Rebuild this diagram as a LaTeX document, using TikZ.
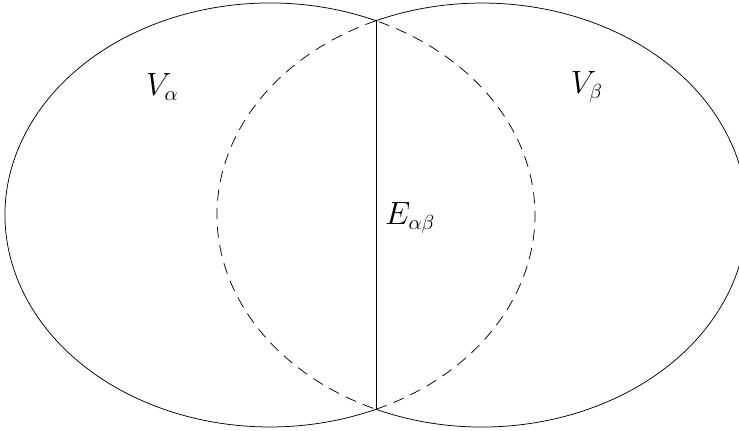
\documentclass[tikz,border=0pt]{standalone}
\begin{document}
\begin{tikzpicture}[
  lbl/.style={font=\fontsize{16pt}{19pt}\selectfont},
  dsh/.style={dash pattern=on 6pt off 4pt},
  ell/.style={x radius=5, y radius=4}
]
\useasboundingbox (-5.094,-4.057) rectangle (8.85,4.057);
\coordinate (top) at (2,{4*sqrt(0.84)});
\coordinate (bot) at (2,{-4*sqrt(0.84)});
% left ellipse
\draw (top) arc[start angle=66.42, end angle=293.58, ell];
\draw[dsh] (bot) arc[start angle=-66.42, end angle=66.42, ell];
% right ellipse
\draw (bot) arc[start angle=246.42, end angle=473.58, ell];
\draw[dsh] (top) arc[start angle=113.58, end angle=246.42, ell];
% common boundary
\draw (top) -- (bot);
\node[lbl] (va) at (-2.03,2.42) {$V_\alpha$};
\node[lbl] (vb) at (5.98,2.42) {$V_\beta$};
\node[lbl, anchor=west] (e) at (2.05,-0.05) {$E_{\alpha\beta}$};
\end{tikzpicture}
\end{document}
